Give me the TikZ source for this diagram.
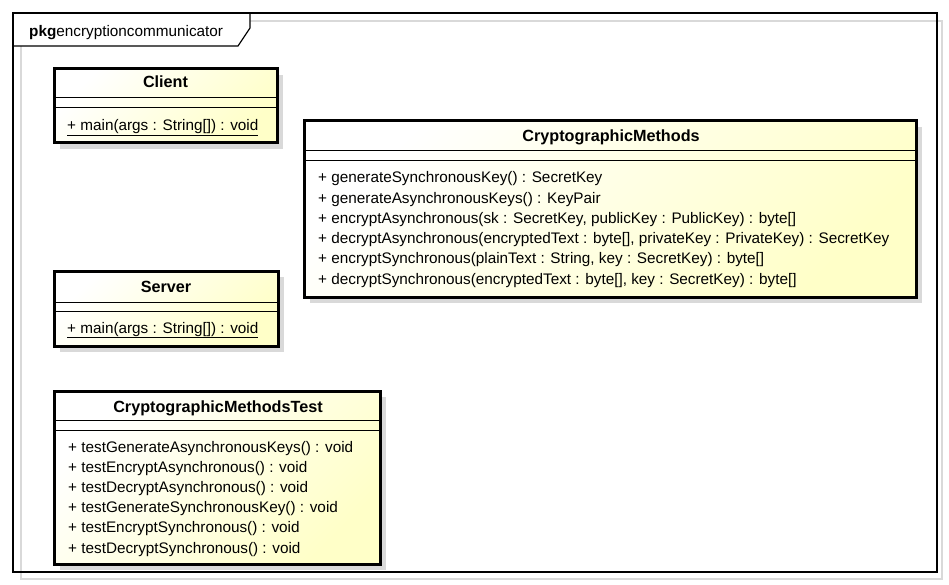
\documentclass[tikz,border=0pt]{standalone}
\usepackage{fontspec}
\setmainfont{Liberation Sans}
\definecolor{classfill}{RGB}{255,255,200}
\definecolor{shadowgray}{RGB}{217,217,217}

\begin{document}
\begin{tikzpicture}[x=1pt,y=-1pt,
		font=\fontsize{15.3}{18}\selectfont,
		classbox/.style={draw=black,line width=3pt,top color=white,bottom color=classfill,shading angle=45},
		classshadow/.style={fill=shadowgray},
		sepline/.style={draw=black,line width=1pt},
		classtitle/.style={anchor=base,inner sep=0pt,font=\fontsize{16.2}{18}\selectfont\bfseries},
		classmember/.style={anchor=base west,inner sep=0pt}]
		\useasboundingbox (0,0) rectangle (949,585);
		% package frame
		\draw[shadowgray,line width=1.5pt] (21,21) rectangle (942,579);
		\draw[fill=white,line width=1.2pt] (13,46) -- (238,46) -- (250,28) -- (250,13) -- (13,13) -- cycle;
		\draw[line width=1.2pt] (13,13) rectangle (937,572);
		\node[anchor=base west,inner sep=0pt] (pkglabel) at (29,37) {\textbf{pkg}encryptioncommunicator};
		% Client
		\fill[classshadow] (60,75) rectangle (283,149);
		\draw[classbox] (54,69) rectangle (277,143);
		\draw[sepline] (54,98) -- (277,98) (54,108) -- (277,108);
		\node[classtitle] (client) at (165.5,88) {Client};
		\node[classmember] (clientmain) at (67,131) {\underline{+ main(args : String[]) : void}};
		% Server
		\fill[classshadow] (60,277) rectangle (284,352);
		\draw[classbox] (54,271) rectangle (278,346);
		\draw[sepline] (54,302) -- (278,302) (54,311) -- (278,311);
		\node[classtitle] (server) at (166,292) {Server};
		\node[classmember] (servermain) at (67,333) {\underline{+ main(args : String[]) : void}};
		% CryptographicMethodsTest
		\fill[classshadow] (60,397) rectangle (386,570);
		\draw[classbox] (54,391) rectangle (380,564);
		\draw[sepline] (54,420) -- (380,420) (54,430) -- (380,430);
		\node[classtitle] (cmtest) at (218,412) {CryptographicMethodsTest};
		\node[classmember] (cmt1) at (68,452) {+ testGenerateAsynchronousKeys() : void};
		\node[classmember] (cmt2) at (68,472.2) {+ testEncryptAsynchronous() : void};
		\node[classmember] (cmt3) at (68,492.4) {+ testDecryptAsynchronous() : void};
		\node[classmember] (cmt4) at (68,512.6) {+ testGenerateSynchronousKey() : void};
		\node[classmember] (cmt5) at (68,532.8) {+ testEncryptSynchronous() : void};
		\node[classmember] (cmt6) at (68,553) {+ testDecryptSynchronous() : void};
		% CryptographicMethods
		\fill[classshadow] (310,127) rectangle (922,303);
		\draw[classbox] (304,121) rectangle (916,297);
		\draw[sepline] (304,151) -- (916,151) (304,161) -- (916,161);
		\node[classtitle] (cm) at (611,142) {CryptographicMethods};
		\node[classmember] (cm1) at (318,183) {+ generateSynchronousKey() : SecretKey};
		\node[classmember] (cm2) at (318,203.2) {+ generateAsynchronousKeys() : KeyPair};
		\node[classmember] (cm3) at (318,223.4) {+ encryptAsynchronous(sk : SecretKey, publicKey : PublicKey) : byte[]};
		\node[classmember] (cm4) at (318,243.6) {+ decryptAsynchronous(encryptedText : byte[], privateKey : PrivateKey) : SecretKey};
		\node[classmember] (cm5) at (318,263.8) {+ encryptSynchronous(plainText : String, key : SecretKey) : byte[]};
		\node[classmember] (cm6) at (318,284) {+ decryptSynchronous(encryptedText : byte[], key : SecretKey) : byte[]};
\end{tikzpicture}
\end{document}
